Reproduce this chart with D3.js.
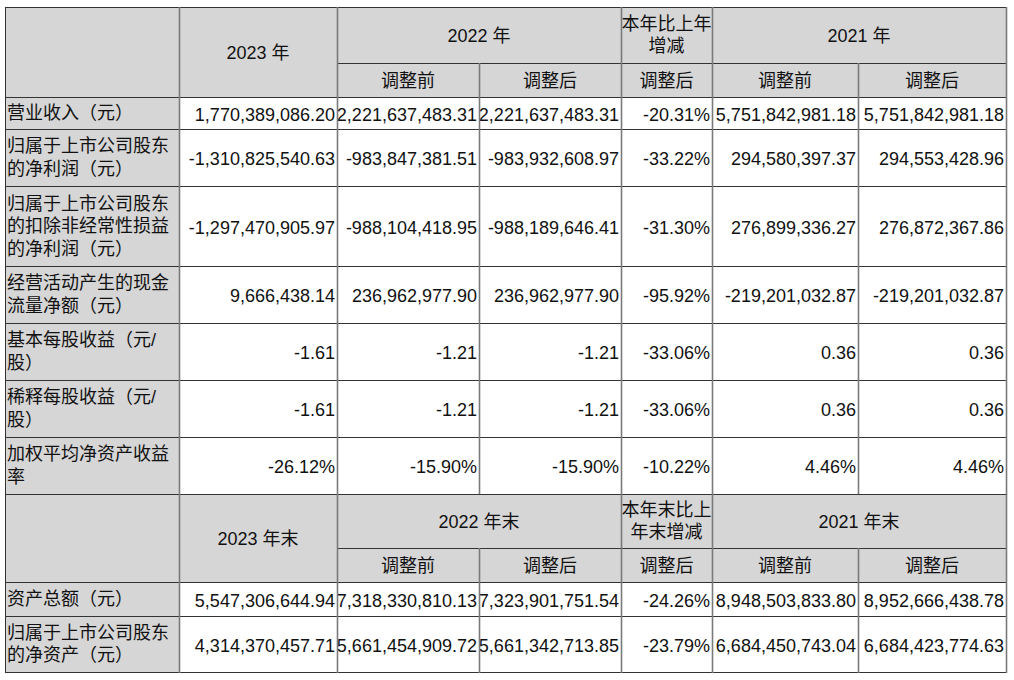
<!DOCTYPE html>
<html>
<head>
<meta charset="utf-8">
<script src="https://cdn.jsdelivr.net/npm/d3@7"></script>
<style>
  body { margin: 0; background: #fff; }
  svg { display: block; }
  text { font-family: "Liberation Sans", Arial, "Noto Sans CJK SC", sans-serif; font-size: 18px; fill: #111; }
</style>
</head>
<body>
<script>
// ---- data ----
const incomeHeads = [['2023 年'], ['2022 年'], ['本年比上年', '增减'], ['2021 年']]
const balanceHeads = [['2023 年末'], ['2022 年末'], ['本年末比上', '年末增减'], ['2021 年末']]
const subHeads = ['调整前', '调整后', '调整后', '调整前', '调整后']

const incomeLabels = [
  '营业收入（元）',
  '归属于上市公司股东的净利润（元）',
  '归属于上市公司股东的扣除非经常性损益的净利润（元）',
  '经营活动产生的现金流量净额（元）',
  '基本每股收益（元/股）',
  '稀释每股收益（元/股）',
  '加权平均净资产收益率',
]
const income2023 = ['1,770,389,086.20', '-1,310,825,540.63', '-1,297,470,905.97', '9,666,438.14', '-1.61', '-1.61', '-26.12%']
const income2022Before = ['2,221,637,483.31', '-983,847,381.51', '-988,104,418.95', '236,962,977.90', '-1.21', '-1.21', '-15.90%']
const income2022After = ['2,221,637,483.31', '-983,932,608.97', '-988,189,646.41', '236,962,977.90', '-1.21', '-1.21', '-15.90%']
const incomeChange = ['-20.31%', '-33.22%', '-31.30%', '-95.92%', '-33.06%', '-33.06%', '-10.22%']
const income2021Before = ['5,751,842,981.18', '294,580,397.37', '276,899,336.27', '-219,201,032.87', '0.36', '0.36', '4.46%']
const income2021After = ['5,751,842,981.18', '294,553,428.96', '276,872,367.86', '-219,201,032.87', '0.36', '0.36', '4.46%']

const balanceLabels = ['资产总额（元）', '归属于上市公司股东的净资产（元）']
const balance2023 = ['5,547,306,644.94', '4,314,370,457.71']
const balance2022Before = ['7,318,330,810.13', '5,661,454,909.72']
const balance2022After = ['7,323,901,751.54', '5,661,342,713.85']
const balanceChange = ['-24.26%', '-23.79%']
const balance2021Before = ['8,948,503,833.80', '6,684,450,743.04']
const balance2021After = ['8,952,666,438.78', '6,684,423,774.63']

// ---- layout ----
const W = 1014, H = 680
const tableLeft = 5, tableTop = 7
const colW = [174, 158, 142, 142, 91, 146, 148]
const x = d3.scaleOrdinal()
  .domain(d3.range(colW.length + 1))
  .range([tableLeft, ...Array.from(d3.cumsum(colW), (v) => v + tableLeft)])

const headBg = '#d6d6d6'
const lineH = 22.5
const pad = 2

const svg = d3.select('body').append('svg').attr('width', W).attr('height', H)

function wrap(label, n) {
  const chars = Array.from(label)
  const out = []
  for (let i = 0; i < chars.length; i += n) out.push(chars.slice(i, i + n).join(''))
  return out
}

function lines(g, rows, cx, cy, anchor) {
  const t = g.append('text').attr('text-anchor', anchor)
  rows.forEach((s, i) => {
    t.append('tspan')
      .attr('x', cx)
      .attr('y', cy + (i - (rows.length - 1) / 2) * lineH)
      .attr('dominant-baseline', 'central')
      .text(s)
  })
}

function section(y0, headH, subH, heads, labels, cols, rowH) {
  const g = svg.append('g')
  const yHeadSplit = y0 + headH
  const yHeadEnd = yHeadSplit + subH
  const y = d3.scaleOrdinal()
    .domain(d3.range(rowH.length + 1))
    .range([yHeadEnd, ...Array.from(d3.cumsum(rowH), (v) => v + yHeadEnd)])
  const yEnd = y(rowH.length)

  // backgrounds
  g.append('rect').attr('x', x(0)).attr('y', y0)
    .attr('width', x(7) - x(0)).attr('height', yHeadEnd - y0).attr('fill', headBg)
  g.append('rect').attr('x', x(0)).attr('y', yHeadEnd)
    .attr('width', x(1) - x(0)).attr('height', yEnd - yHeadEnd).attr('fill', headBg)
  g.append('rect').attr('x', x(1)).attr('y', yHeadEnd)
    .attr('width', x(7) - x(1)).attr('height', yEnd - yHeadEnd).attr('fill', '#fff')

  // header text
  lines(g, heads[0], (x(1) + x(2)) / 2, (y0 + yHeadEnd) / 2 + 1, 'middle')
  lines(g, heads[1], (x(2) + x(4)) / 2, (y0 + yHeadSplit) / 2 + 1, 'middle')
  lines(g, heads[2], (x(4) + x(5)) / 2, (y0 + yHeadSplit) / 2, 'middle')
  lines(g, heads[3], (x(5) + x(7)) / 2, (y0 + yHeadSplit) / 2 + 1, 'middle')
  subHeads.forEach((s, i) => {
    lines(g, [s], (x(i + 2) + x(i + 3)) / 2, (yHeadSplit + yHeadEnd) / 2 + 1, 'middle')
  })

  // body text
  labels.forEach((label, r) => {
    const cy = (y(r) + y(r + 1)) / 2
    lines(g, wrap(label, 9), x(0) + pad, cy, 'start')
    cols.forEach((col, c) => {
      lines(g, [col[r]], x(c + 2) - pad, cy + 1.5, 'end')
    })
  })

  // horizontal rules
  const hRules = [[x(0), x(7), y0], [x(2), x(7), yHeadSplit], [x(0), x(7), yHeadEnd]]
  d3.range(1, rowH.length + 1).forEach((r) => hRules.push([x(0), x(7), y(r)]))
  g.selectAll('line.h').data(hRules).enter().append('line')
    .attr('x1', (d) => d[0]).attr('x2', (d) => d[1])
    .attr('y1', (d) => d[2] + 0.5).attr('y2', (d) => d[2] + 0.5)
    .attr('stroke', '#333').attr('stroke-width', 1)

  // vertical rules
  const vRules = []
  d3.range(8).forEach((c) => {
    const full = c !== 3 && c !== 6
    vRules.push([x(c), full ? y0 : yHeadSplit, yEnd])
  })
  g.selectAll('line.v').data(vRules).enter().append('line')
    .attr('x1', (d) => d[0] + 0.5).attr('x2', (d) => d[0] + 0.5)
    .attr('y1', (d) => d[1]).attr('y2', (d) => d[2] + 1)
    .attr('stroke', (d, i) => (i === 0 ? '#333' : '#7a7a7a'))
    .attr('stroke-width', (d, i) => (i === 0 ? 1 : 1.6))
}

section(tableTop, 56, 34, incomeHeads, incomeLabels,
  [income2023, income2022Before, income2022After, incomeChange, income2021Before, income2021After],
  [32, 57, 80, 57, 57, 57, 57])

section(494, 54, 34, balanceHeads, balanceLabels,
  [balance2023, balance2022Before, balance2022After, balanceChange, balance2021Before, balance2021After],
  [34, 56])
</script>
</body>
</html>
